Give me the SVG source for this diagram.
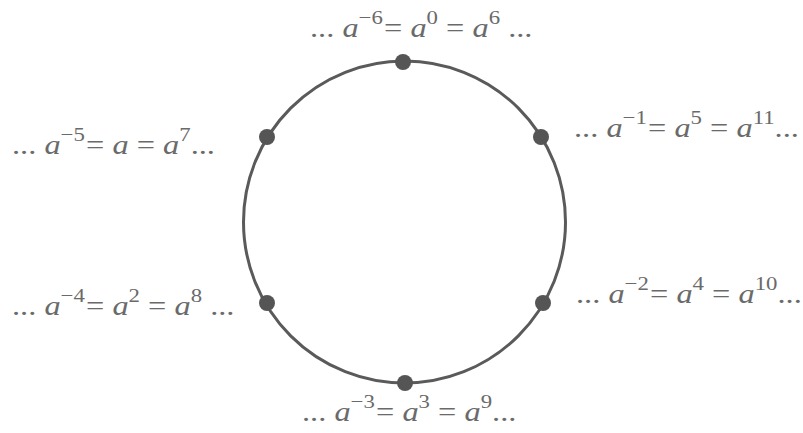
<svg xmlns="http://www.w3.org/2000/svg" width="803" height="433" viewBox="0 0 803 433">
<style>
.lbl{font-family:"Liberation Serif","Times New Roman",serif;font-size:27px;fill:#6a6a6a}
.i{font-style:italic}
.sup{font-size:19px}
.dot{fill:#555}
</style>
<rect width="803" height="433" fill="#fff"/>
<g id="connectors">
<circle cx="404.5" cy="222" r="161" fill="none" stroke="#5a5a5a" stroke-width="3"/>
</g>
<g id="n0"><circle class="dot" cx="403" cy="62" r="8"/>
<text class="lbl" transform="translate(310,37) scale(1.2,1)">... <tspan class="i">a</tspan><tspan class="sup" dy="-13">−6</tspan><tspan dx="1" dy="13">= </tspan><tspan class="i">a</tspan><tspan class="sup" dy="-13">0</tspan><tspan dy="13"> = </tspan><tspan class="i">a</tspan><tspan class="sup" dy="-13">6</tspan><tspan dy="13"> ...</tspan></text></g>
<g id="n1"><circle class="dot" cx="541" cy="137" r="8"/>
<text class="lbl" transform="translate(574,137) scale(1.2,1)">... <tspan class="i">a</tspan><tspan class="sup" dy="-13">−1</tspan><tspan dx="1" dy="13">= </tspan><tspan class="i">a</tspan><tspan class="sup" dy="-13">5</tspan><tspan dy="13"> = </tspan><tspan class="i">a</tspan><tspan class="sup" dy="-13">11</tspan><tspan dy="13">...</tspan></text></g>
<g id="n2"><circle class="dot" cx="543" cy="303" r="8"/>
<text class="lbl" transform="translate(576,303) scale(1.2,1)">... <tspan class="i">a</tspan><tspan class="sup" dy="-13">−2</tspan><tspan dx="1" dy="13">= </tspan><tspan class="i">a</tspan><tspan class="sup" dy="-13">4</tspan><tspan dy="13"> = </tspan><tspan class="i">a</tspan><tspan class="sup" dy="-13">10</tspan><tspan dy="13">...</tspan></text></g>
<g id="n3"><circle class="dot" cx="405" cy="383" r="8"/>
<text class="lbl" transform="translate(302,421) scale(1.2,1)">... <tspan class="i">a</tspan><tspan class="sup" dy="-13">−3</tspan><tspan dx="1" dy="13">= </tspan><tspan class="i">a</tspan><tspan class="sup" dy="-13">3</tspan><tspan dy="13"> = </tspan><tspan class="i">a</tspan><tspan class="sup" dy="-13">9</tspan><tspan dy="13">...</tspan></text></g>
<g id="n4"><circle class="dot" cx="267" cy="303" r="8"/>
<text class="lbl" transform="translate(12,315) scale(1.2,1)">... <tspan class="i">a</tspan><tspan class="sup" dy="-13">−4</tspan><tspan dx="1" dy="13">= </tspan><tspan class="i">a</tspan><tspan class="sup" dy="-13">2</tspan><tspan dy="13"> = </tspan><tspan class="i">a</tspan><tspan class="sup" dy="-13">8</tspan><tspan dy="13"> ...</tspan></text></g>
<g id="n5"><circle class="dot" cx="267" cy="137" r="8"/>
<text class="lbl" transform="translate(12,154) scale(1.2,1)">... <tspan class="i">a</tspan><tspan class="sup" dy="-13">−5</tspan><tspan dx="1" dy="13">= </tspan><tspan class="i">a</tspan><tspan> = </tspan><tspan class="i">a</tspan><tspan class="sup" dy="-13">7</tspan><tspan dy="13">...</tspan></text></g>
</svg>
